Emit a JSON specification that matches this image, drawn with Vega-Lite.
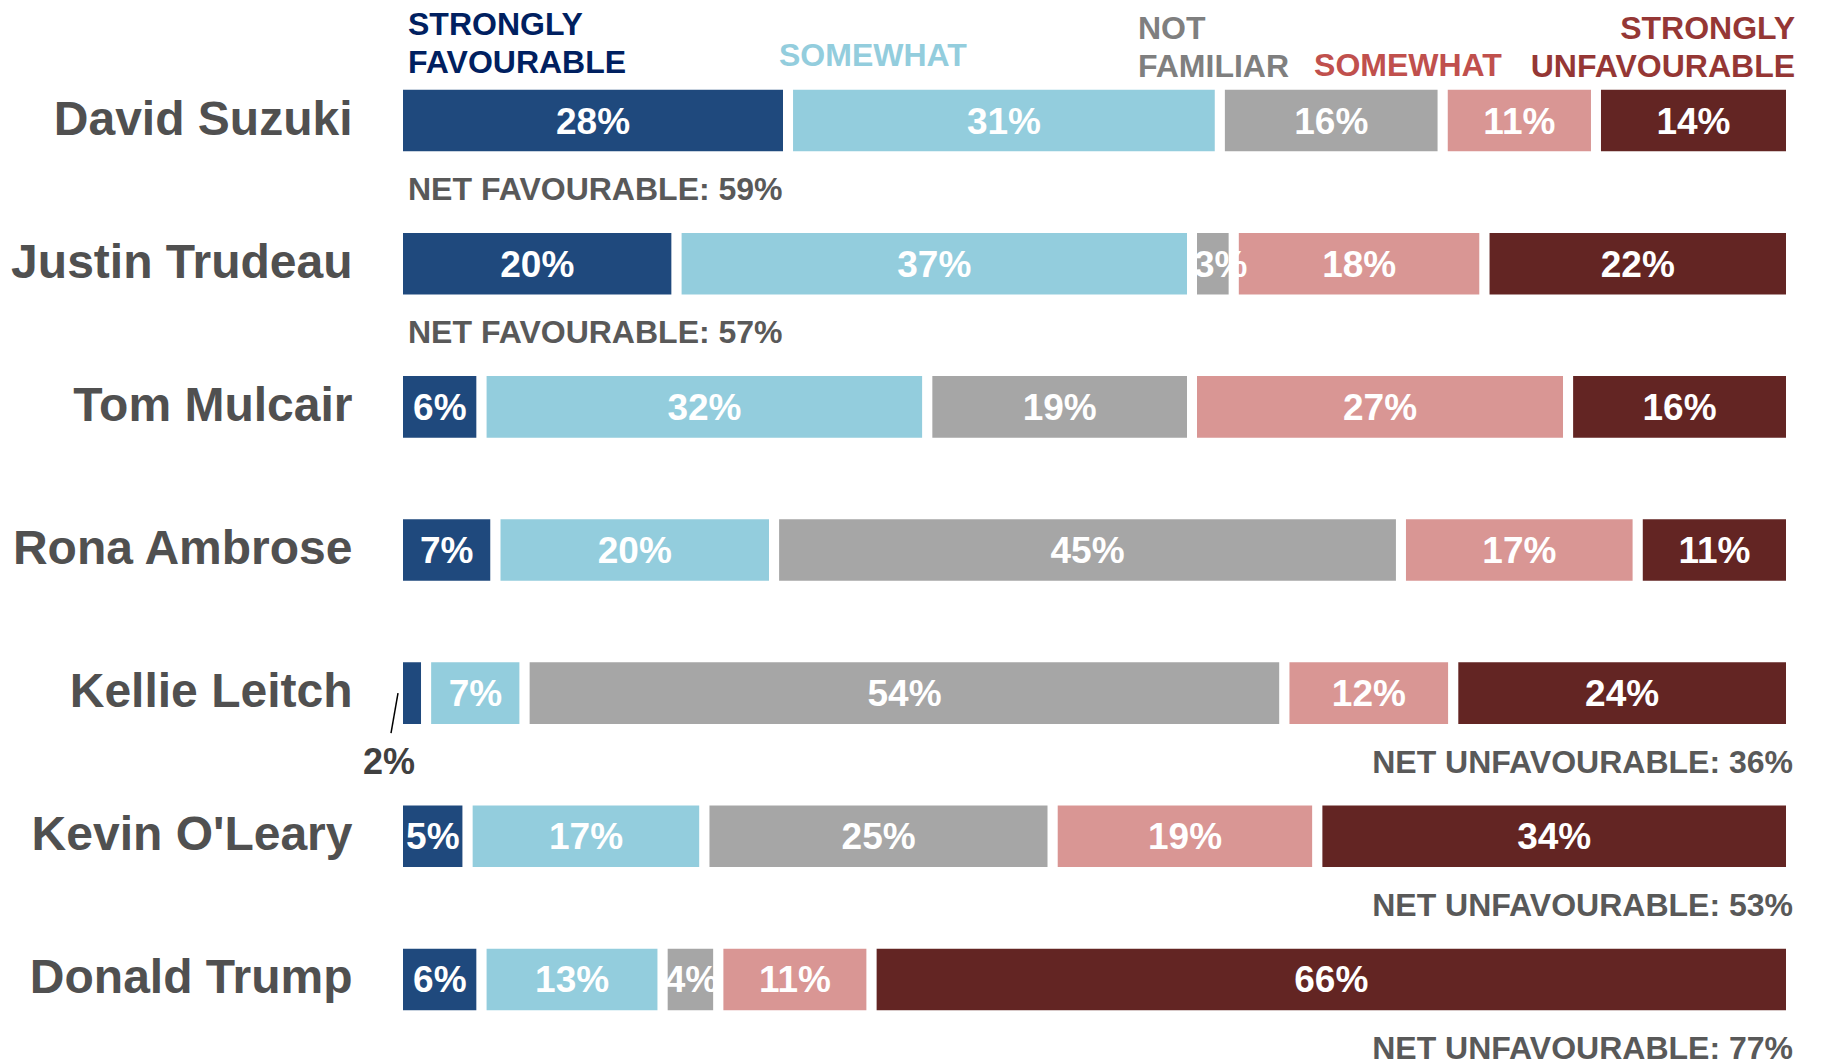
{
  "$schema": "https://vega.github.io/schema/vega-lite/v6.json",
  "width": 1393,
  "height": 1002,
  "autosize": {"type": "none"},
  "padding": {"left": 398, "top": 49, "right": 30, "bottom": 13},
  "background": "white",
  "config": {"view": {"stroke": null}, "font": "Liberation Sans, Arial, sans-serif"},
  "datasets": {
    "ratings": [
      {"name": "David Suzuki", "category": "Strongly favourable", "rank": 1, "share": 0.28},
      {"name": "David Suzuki", "category": "Somewhat favourable", "rank": 2, "share": 0.31},
      {"name": "David Suzuki", "category": "Not familiar", "rank": 3, "share": 0.16},
      {"name": "David Suzuki", "category": "Somewhat unfavourable", "rank": 4, "share": 0.11},
      {"name": "David Suzuki", "category": "Strongly unfavourable", "rank": 5, "share": 0.14},
      {"name": "Justin Trudeau", "category": "Strongly favourable", "rank": 1, "share": 0.20},
      {"name": "Justin Trudeau", "category": "Somewhat favourable", "rank": 2, "share": 0.37},
      {"name": "Justin Trudeau", "category": "Not familiar", "rank": 3, "share": 0.03},
      {"name": "Justin Trudeau", "category": "Somewhat unfavourable", "rank": 4, "share": 0.18},
      {"name": "Justin Trudeau", "category": "Strongly unfavourable", "rank": 5, "share": 0.22},
      {"name": "Tom Mulcair", "category": "Strongly favourable", "rank": 1, "share": 0.06},
      {"name": "Tom Mulcair", "category": "Somewhat favourable", "rank": 2, "share": 0.32},
      {"name": "Tom Mulcair", "category": "Not familiar", "rank": 3, "share": 0.19},
      {"name": "Tom Mulcair", "category": "Somewhat unfavourable", "rank": 4, "share": 0.27},
      {"name": "Tom Mulcair", "category": "Strongly unfavourable", "rank": 5, "share": 0.16},
      {"name": "Rona Ambrose", "category": "Strongly favourable", "rank": 1, "share": 0.07},
      {"name": "Rona Ambrose", "category": "Somewhat favourable", "rank": 2, "share": 0.20},
      {"name": "Rona Ambrose", "category": "Not familiar", "rank": 3, "share": 0.45},
      {"name": "Rona Ambrose", "category": "Somewhat unfavourable", "rank": 4, "share": 0.17},
      {"name": "Rona Ambrose", "category": "Strongly unfavourable", "rank": 5, "share": 0.11},
      {"name": "Kellie Leitch", "category": "Strongly favourable", "rank": 1, "share": 0.02},
      {"name": "Kellie Leitch", "category": "Somewhat favourable", "rank": 2, "share": 0.07},
      {"name": "Kellie Leitch", "category": "Not familiar", "rank": 3, "share": 0.54},
      {"name": "Kellie Leitch", "category": "Somewhat unfavourable", "rank": 4, "share": 0.12},
      {"name": "Kellie Leitch", "category": "Strongly unfavourable", "rank": 5, "share": 0.24},
      {"name": "Kevin O'Leary", "category": "Strongly favourable", "rank": 1, "share": 0.05},
      {"name": "Kevin O'Leary", "category": "Somewhat favourable", "rank": 2, "share": 0.17},
      {"name": "Kevin O'Leary", "category": "Not familiar", "rank": 3, "share": 0.25},
      {"name": "Kevin O'Leary", "category": "Somewhat unfavourable", "rank": 4, "share": 0.19},
      {"name": "Kevin O'Leary", "category": "Strongly unfavourable", "rank": 5, "share": 0.34},
      {"name": "Donald Trump", "category": "Strongly favourable", "rank": 1, "share": 0.06},
      {"name": "Donald Trump", "category": "Somewhat favourable", "rank": 2, "share": 0.13},
      {"name": "Donald Trump", "category": "Not familiar", "rank": 3, "share": 0.04},
      {"name": "Donald Trump", "category": "Somewhat unfavourable", "rank": 4, "share": 0.11},
      {"name": "Donald Trump", "category": "Strongly unfavourable", "rank": 5, "share": 0.66}
    ],
    "net": [
      {"name": "David Suzuki", "side": "favourable", "label": "NET FAVOURABLE: 59%"},
      {"name": "Justin Trudeau", "side": "favourable", "label": "NET FAVOURABLE: 57%"},
      {"name": "Kellie Leitch", "side": "unfavourable", "label": "NET UNFAVOURABLE: 36%"},
      {"name": "Kevin O'Leary", "side": "unfavourable", "label": "NET UNFAVOURABLE: 53%"},
      {"name": "Donald Trump", "side": "unfavourable", "label": "NET UNFAVOURABLE: 77%"}
    ],
    "headers": [
      {"name": "David Suzuki", "category": "Strongly favourable", "header": "STRONGLY\nFAVOURABLE", "anchor": 0.0072},
      {"name": "David Suzuki", "category": "Somewhat favourable", "header": "SOMEWHAT", "anchor": 0.2735},
      {"name": "David Suzuki", "category": "Not familiar", "header": "NOT\nFAMILIAR", "anchor": 0.5312},
      {"name": "David Suzuki", "category": "Somewhat unfavourable", "header": "SOMEWHAT", "anchor": 0.6576},
      {"name": "David Suzuki", "category": "Strongly unfavourable", "header": "STRONGLY\nUNFAVOURABLE", "anchor": 1.0029}
    ]
  },
  "encoding": {
    "y": {
      "field": "name",
      "type": "nominal",
      "sort": ["David Suzuki", "Justin Trudeau", "Tom Mulcair", "Rona Ambrose", "Kellie Leitch", "Kevin O'Leary", "Donald Trump"],
      "scale": {
        "domain": ["David Suzuki", "Justin Trudeau", "Tom Mulcair", "Rona Ambrose", "Kellie Leitch", "Kevin O'Leary", "Donald Trump"],
        "paddingInner": 0.5,
        "paddingOuter": 0.25
      },
      "axis": {
        "title": null,
        "domain": false,
        "ticks": false,
        "labelPadding": 46,
        "labelFontSize": 48,
        "labelFontWeight": "bold",
        "labelColor": "#505050",
        "labelLimit": 0
      }
    }
  },
  "layer": [
    {
      "data": {"name": "ratings"},
      "transform": [
        {"stack": "share", "groupby": ["name"], "sort": [{"field": "rank", "order": "ascending"}], "offset": "normalize", "as": ["v0", "v1"]}
      ],
      "mark": {"type": "bar", "stroke": "white", "strokeWidth": 10, "strokeJoin": "miter"},
      "encoding": {
        "x": {"field": "v0", "type": "quantitative", "scale": {"domain": [0, 1], "nice": false, "zero": false}, "axis": null},
        "x2": {"field": "v1"},
        "color": {
          "field": "category",
          "type": "nominal",
          "scale": {
            "domain": ["Strongly favourable", "Somewhat favourable", "Not familiar", "Somewhat unfavourable", "Strongly unfavourable"],
            "range": ["#1F497D", "#93CDDD", "#A6A6A6", "#D99694", "#632523"]
          },
          "legend": null
        }
      }
    },
    {
      "data": {"name": "ratings"},
      "transform": [
        {"stack": "share", "groupby": ["name"], "sort": [{"field": "rank", "order": "ascending"}], "offset": "normalize", "as": ["v0", "v1"]},
        {"filter": "datum.share >= 0.05"},
        {"fold": ["v0", "v1"], "as": ["edge", "pos"]},
        {"aggregate": [{"op": "mean", "field": "pos", "as": "mid"}], "groupby": ["name", "category", "share"]}
      ],
      "mark": {"type": "text", "color": "white", "fontSize": 37, "fontWeight": "bold", "baseline": "middle", "align": "center", "dy": 2},
      "encoding": {
        "x": {"field": "mid", "type": "quantitative", "axis": null},
        "text": {"field": "share", "type": "quantitative", "format": ".0%"}
      }
    },
    {
      "data": {"name": "ratings"},
      "transform": [
        {"stack": "share", "groupby": ["name"], "sort": [{"field": "rank", "order": "ascending"}], "offset": "normalize", "as": ["v0", "v1"]},
        {"filter": "datum.share >= 0.025 && datum.share < 0.05"}
      ],
      "mark": {"type": "text", "color": "white", "fontSize": 37, "fontWeight": "bold", "baseline": "middle", "align": "left", "dx": 2, "dy": 2},
      "encoding": {
        "x": {"field": "v0", "type": "quantitative", "axis": null},
        "text": {"field": "share", "type": "quantitative", "format": ".0%"}
      }
    },
    {
      "data": {"name": "ratings"},
      "transform": [
        {"stack": "share", "groupby": ["name"], "sort": [{"field": "rank", "order": "ascending"}], "offset": "normalize", "as": ["v0", "v1"]},
        {"filter": "datum.share < 0.025"}
      ],
      "mark": {"type": "text", "color": "#404040", "fontSize": 36, "fontWeight": "bold", "baseline": "middle", "align": "center", "dx": -9, "dy": 70},
      "encoding": {
        "x": {"field": "v0", "type": "quantitative", "axis": null},
        "text": {"field": "share", "type": "quantitative", "format": ".0%"}
      }
    },
    {
      "data": {"name": "ratings"},
      "transform": [
        {"stack": "share", "groupby": ["name"], "sort": [{"field": "rank", "order": "ascending"}], "offset": "normalize", "as": ["v0", "v1"]},
        {"filter": "datum.share < 0.025"}
      ],
      "mark": {"type": "point", "shape": "M0,0L-0.35,2", "size": 1600, "filled": false, "stroke": "#000000", "strokeWidth": 1.5, "opacity": 1},
      "encoding": {
        "x": {"field": "v0", "type": "quantitative", "axis": null}
      }
    },
    {
      "data": {"name": "net"},
      "transform": [{"filter": "datum.side === 'favourable'"}],
      "mark": {"type": "text", "color": "#595959", "fontSize": 32, "fontWeight": "bold", "baseline": "middle", "align": "left", "dx": 10, "dy": 69},
      "encoding": {
        "x": {"datum": 0, "type": "quantitative", "axis": null},
        "text": {"field": "label"}
      }
    },
    {
      "data": {"name": "net"},
      "transform": [{"filter": "datum.side === 'unfavourable'"}],
      "mark": {"type": "text", "color": "#595959", "fontSize": 32, "fontWeight": "bold", "baseline": "middle", "align": "right", "dx": 2, "dy": 70},
      "encoding": {
        "x": {"datum": 1, "type": "quantitative", "axis": null},
        "text": {"field": "label"}
      }
    },
    {
      "data": {"name": "headers"},
      "transform": [{"filter": "datum.category === 'Strongly favourable'"}],
      "mark": {"type": "text", "fontSize": 32, "fontWeight": "bold", "baseline": "bottom", "align": "left", "lineBreak": "\n", "lineHeight": 38, "dy": -79, "color": "#002060"},
      "encoding": {
        "x": {"field": "anchor", "type": "quantitative", "axis": null},
        "text": {"field": "header"}
      }
    },
    {
      "data": {"name": "headers"},
      "transform": [{"filter": "datum.category === 'Somewhat favourable'"}],
      "mark": {"type": "text", "fontSize": 32, "fontWeight": "bold", "baseline": "bottom", "align": "left", "lineBreak": "\n", "lineHeight": 38, "dy": -48, "color": "#93CDDD"},
      "encoding": {
        "x": {"field": "anchor", "type": "quantitative", "axis": null},
        "text": {"field": "header"}
      }
    },
    {
      "data": {"name": "headers"},
      "transform": [{"filter": "datum.category === 'Not familiar'"}],
      "mark": {"type": "text", "fontSize": 32, "fontWeight": "bold", "baseline": "bottom", "align": "left", "lineBreak": "\n", "lineHeight": 38, "dy": -75, "color": "#7F7F7F"},
      "encoding": {
        "x": {"field": "anchor", "type": "quantitative", "axis": null},
        "text": {"field": "header"}
      }
    },
    {
      "data": {"name": "headers"},
      "transform": [{"filter": "datum.category === 'Somewhat unfavourable'"}],
      "mark": {"type": "text", "fontSize": 32, "fontWeight": "bold", "baseline": "bottom", "align": "left", "lineBreak": "\n", "lineHeight": 38, "dy": -38, "color": "#C0504D"},
      "encoding": {
        "x": {"field": "anchor", "type": "quantitative", "axis": null},
        "text": {"field": "header"}
      }
    },
    {
      "data": {"name": "headers"},
      "transform": [{"filter": "datum.category === 'Strongly unfavourable'"}],
      "mark": {"type": "text", "fontSize": 32, "fontWeight": "bold", "baseline": "bottom", "align": "right", "lineBreak": "\n", "lineHeight": 38, "dy": -75, "color": "#953735"},
      "encoding": {
        "x": {"field": "anchor", "type": "quantitative", "axis": null},
        "text": {"field": "header"}
      }
    }
  ],
  "resolve": {"scale": {"color": "independent"}}
}
